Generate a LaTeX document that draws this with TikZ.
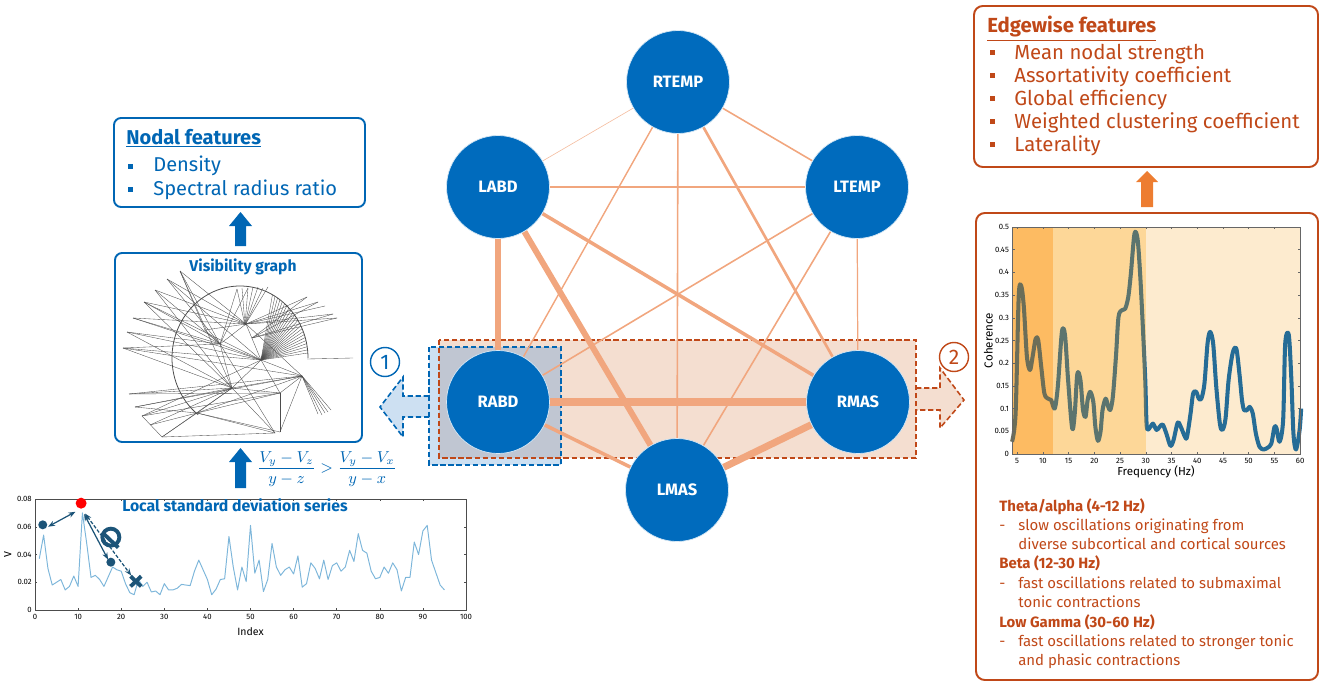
\documentclass[tikz,border=0pt]{standalone}
\usepackage{fontspec}
\setmainfont{Fira Sans}
\usetikzlibrary{arrows.meta,calc}
\pgfdeclarelayer{boxes}
\pgfdeclarelayer{edges}
\pgfsetlayers{boxes,edges,main}
\definecolor{nblue}{RGB}{0,107,189}
\definecolor{tblue}{RGB}{0,102,180}
\definecolor{eorange}{RGB}{241,166,126}
\definecolor{dred}{RGB}{192,72,24}
\definecolor{peach}{RGB}{244,222,208}
\definecolor{lblue}{RGB}{205,224,242}
\definecolor{gblue}{RGB}{192,198,210}
\definecolor{sblue}{RGB}{125,182,218}
\definecolor{dteal}{RGB}{28,84,120}
\definecolor{aorange}{RGB}{237,125,49}
\definecolor{bandA}{RGB}{253,187,98}
\definecolor{bandB}{RGB}{253,215,152}
\definecolor{bandC}{RGB}{253,235,207}
\definecolor{curA}{RGB}{108,110,88}
\definecolor{curB}{RGB}{92,116,110}
\definecolor{curC}{RGB}{38,108,150}
\begin{document}
\begin{tikzpicture}[x=0.02cm,y=-0.02cm,
  gnode/.style={circle,fill=nblue,draw=white!85!nblue,line width=0.4pt,minimum size=2.06cm,inner sep=0pt,text=white,font=\fontsize{9.4}{11}\selectfont\bfseries},
  gedge/.style={draw=eorange},
  bbox/.style={draw=tblue,line width=1.1pt,rounded corners=4pt},
  rbox/.style={draw=dred,line width=1.1pt,rounded corners=5pt},
  vg/.style={draw=black!70,line width=0.2pt},
  ttext/.style={anchor=base west,inner sep=0pt,text=tblue,font=\fontsize{11.4}{13}\selectfont},
  rtext/.style={anchor=base west,inner sep=0pt,text=dred,font=\fontsize{11.6}{13}\selectfont},
  stext/.style={anchor=base west,inner sep=0pt,text=dred,font=\fontsize{8.5}{10}\selectfont},
  ticklab/.style={font=\fontsize{4.4}{5}\selectfont,inner sep=1pt},
  dbox/.style={dashed,dash pattern=on 3pt off 1.6pt,line width=0.9pt},
  mdot/.style={circle,fill=dteal,minimum size=0.18cm,inner sep=0pt},
  darr/.style={draw=dteal,line width=0.7pt,{Stealth[length=4pt]}-{Stealth[length=4pt]},shorten <=0.5pt,shorten >=0.5pt},
]
\useasboundingbox (0,0) rectangle (1325,686);

% ---------------- background boxes of the network ----------------
\begin{pgfonlayer}{boxes}
\fill[peach] (439,340) rectangle (916,458);
\fill[lblue] (429,347) rectangle (561,465);
\fill[gblue] (439,347) rectangle (561,458);
\fill[lblue] (429,396) -- (403,396) -- (403,377) -- (380,407) -- (403,437) -- (403,417) -- (429,417) -- cycle;
\fill[peach] (916,388) -- (940,388) -- (940,368) -- (964,400) -- (940,428) -- (940,410) -- (916,410) -- cycle;
\draw[dred,dbox] (439,340) rectangle (916,458);
\draw[tblue,dbox] (429,347) rectangle (561,465);
\draw[tblue,dbox] (429,396) -- (403,396) -- (403,377) -- (380,407) -- (403,437) -- (403,417) -- (429,417);
\draw[dred,dbox] (916,388) -- (940,388) -- (940,368) -- (964,400) -- (940,428) -- (940,410) -- (916,410);
\end{pgfonlayer}

% ---------------- network nodes ----------------
\node[gnode] (RTEMP) at (678,82) {RTEMP};
\node[gnode] (LABD) at (498,187) {LABD};
\node[gnode] (LTEMP) at (857,187) {LTEMP};
\node[gnode] (RABD) at (498,402) {RABD};
\node[gnode] (RMAS) at (858,402) {RMAS};
\node[gnode] (LMAS) at (677,490) {LMAS};

\begin{pgfonlayer}{edges}
\draw[gedge,draw=eorange!75,line width=0.35pt] (RTEMP) -- (LABD);
\draw[gedge,line width=0.9pt] (RTEMP) -- (LTEMP);
\draw[gedge,line width=0.8pt] (RTEMP) -- (RABD);
\draw[gedge,line width=0.9pt] (RTEMP) -- (LMAS);
\draw[gedge,line width=1.5pt] (RTEMP) -- (RMAS);
\draw[gedge,line width=0.9pt] (LABD) -- (LTEMP);
\draw[gedge,line width=3.4pt] (LABD) -- (RABD);
\draw[gedge,line width=3.4pt] (LABD) -- (LMAS);
\draw[gedge,line width=2pt] (LABD) -- (RMAS);
\draw[gedge,line width=0.9pt] (LTEMP) -- (RABD);
\draw[gedge,line width=0.9pt] (LTEMP) -- (LMAS);
\draw[gedge,line width=0.7pt] (LTEMP) -- (RMAS);
\draw[gedge,line width=4.5pt] (RABD) -- (RMAS);
\draw[gedge,line width=2pt] (RABD) -- (LMAS);
\draw[gedge,line width=4pt] (RMAS) -- (LMAS);
\end{pgfonlayer}

\node[circle,draw=tblue,line width=0.8pt,minimum size=0.58cm,inner sep=0pt,text=tblue,font=\fontsize{12}{13}\selectfont] (c1) at (385,362) {1};
\node[circle,draw=dred,line width=0.8pt,minimum size=0.58cm,inner sep=0pt,text=dred,font=\fontsize{12}{13}\selectfont] (c2) at (954,357) {2};

% ---------------- left: nodal features ----------------
\draw[bbox] (114,118) rectangle (365,207);
\node[ttext,font=\fontsize{11.4}{13}\selectfont\bfseries] (nodt) at (126,144) {\underline{Nodal features}};
\fill[tblue] (128,164) rectangle (133,169);
\fill[tblue] (128,187) rectangle (133,192);
\node[ttext] (nod1) at (153,172) {Density};
\node[ttext] (nod2) at (153,195) {Spectral radius ratio};

\fill[tblue] (235,246) -- (235,226) -- (229,226) -- (240.5,212) -- (252,226) -- (246,226) -- (246,246) -- cycle;

% ---------------- visibility graph ----------------
\draw[bbox] (115,253) rectangle (362,442);
\node[anchor=base,inner sep=0pt,text=tblue,font=\fontsize{8.9}{10}\selectfont\bfseries] (vgt) at (243,271) {Visibility graph};
\begin{scope}[vg]
\draw[line width=0.45pt] (308,358) arc[start angle=0,end angle=-232,x radius=68,y radius=72];
\foreach \t in {-4,-6.5,...,-62} \draw (261,360) -- ($(240,358)+(\t:68 and 72)$);
\draw (307,359) -- (353,358);
\foreach \ax/\ay/\bx/\by in {
 180/271/220/344, 180/271/246/324, 180/271/232/388, 180/271/205/330,
 167/279/220/344, 167/279/246/324, 167/279/261/360,
 155/290/220/344, 155/290/232/388, 155/290/246/324,
 144/302/220/344, 144/302/261/360, 144/302/246/324, 144/302/232/388,
 133/318/220/344, 133/318/246/324, 133/318/261/360,
 127/332/220/344, 127/332/261/360, 127/332/232/388,
 123/348/220/344, 123/348/302/376, 123/348/232/388, 123/348/261/360,
 129/394/232/388, 129/394/280/393, 129/394/302/376,
 135/407/232/388, 135/407/302/376, 135/407/197/413,
 142/416/232/388, 142/416/280/393, 142/416/261/360,
 150/425/197/413, 150/425/232/388,
 162/437/197/413, 162/437/232/388, 162/437/142/416,
 275/433/197/413, 275/433/232/388, 275/433/162/437, 275/433/220/344,
 280/432/302/376, 280/432/197/413, 280/432/280/393,
 302/376/322/415, 302/376/325/413, 302/376/328/412, 302/376/318/414, 302/376/331/410,
 302/376/261/360, 302/376/232/388, 302/376/280/393, 302/376/246/324, 302/376/197/413,
 246/324/307/297, 246/324/318/302, 246/324/333/314, 246/324/337/318, 246/324/325/306,
 252/338/307/297, 252/338/318/302, 252/338/337/318, 252/338/333/314,
 245/325/237/289, 245/325/242/288, 245/325/248/288, 245/325/253/287, 245/325/258/287, 245/325/263/288, 245/325/268/287,
 220/344/237/289, 220/344/248/288, 220/344/205/330,
 232/388/280/393, 232/388/261/360, 232/388/220/344, 232/388/197/413,
 220/344/261/360, 220/344/246/324, 246/324/261/360,
 197/413/280/393, 280/393/261/360, 205/330/246/324}
 \draw (\ax,\ay) -- (\bx,\by);
\end{scope}

% ---------------- formula and arrow ----------------
\fill[tblue] (235,488) -- (235,462) -- (229,462) -- (240.5,448) -- (252,462) -- (246,462) -- (246,488) -- cycle;
\node[anchor=west,inner sep=0pt,text=tblue,font=\fontsize{9}{10}\selectfont] (formula) at (257,469) {$\displaystyle\frac{V_y - V_z}{y - z} > \frac{V_y - V_x}{y - x}$};

% ---------------- local standard deviation series ----------------
\begin{scope}[shift={(35,610)},xscale=4.31,yscale=-1387.5]
\draw[black!70,line width=0.4pt] (0,0) rectangle (100,0.08);
\foreach \i in {0,10,...,100} {
  \draw[black!70,line width=0.3pt] (\i,0) -- (\i,0.0015) (\i,0.08) -- (\i,0.0785);
  \node[ticklab,anchor=north] at (\i,-0.0015) {\i};
}
\foreach \v/\l in {0/0,0.02/0.02,0.04/0.04,0.06/0.06,0.08/0.08} {
  \draw[black!70,line width=0.3pt] (0,\v) -- (0.5,\v) (100,\v) -- (99.5,\v);
  \node[ticklab,anchor=east] at (-0.3,\v) {\l};
}
\draw[sblue,line width=0.55pt,line join=round] plot coordinates {
(1,0.037) (2,0.054) (3,0.030) (4,0.018) (5,0.020) (6,0.022) (7,0.0145) (8,0.017) (9,0.0245) (10,0.017)
(11,0.070) (12,0.048) (13,0.0235) (14,0.025) (15,0.022) (16,0.017) (17,0.024) (18,0.031) (19,0.029) (20,0.028)
(21,0.019) (22,0.0125) (23,0.011) (24,0.022) (25,0.017) (26,0.020) (27,0.013) (28,0.0137) (29,0.011) (30,0.019)
(31,0.0145) (32,0.0145) (33,0.0157) (34,0.0185) (35,0.018) (36,0.0176) (37,0.028) (38,0.036) (39,0.029) (40,0.022)
(41,0.011) (42,0.015) (43,0.022) (44,0.0225) (45,0.053) (46,0.031) (47,0.0145) (48,0.031) (49,0.0205) (50,0.061)
(51,0.0265) (52,0.036) (53,0.0133) (54,0.022) (55,0.048) (56,0.031) (57,0.025) (58,0.029) (59,0.031) (60,0.026)
(61,0.039) (62,0.0165) (63,0.019) (64,0.034) (65,0.030) (66,0.0225) (67,0.036) (68,0.022) (69,0.032) (70,0.034)
(71,0.028) (72,0.031) (73,0.043) (74,0.035) (75,0.055) (76,0.043) (77,0.041) (78,0.028) (79,0.0225) (80,0.0235)
(81,0.031) (82,0.0265) (83,0.034) (84,0.029) (85,0.0137) (86,0.0235) (87,0.0235) (88,0.049) (89,0.040) (90,0.057)
(91,0.061) (92,0.036) (93,0.027) (94,0.018) (95,0.0145)};
\node[mdot] (d1) at (1.8,0.0614) {};
\node[mdot] (d2) at (17.6,0.0345) {};
\node[circle,fill=red,minimum size=0.22cm,inner sep=0pt] (dr) at (10.7,0.077) {};
\node[minimum size=0.2cm,inner sep=0pt] (dx) at (23.4,0.0217) {};
\draw[dteal,line width=2.2pt] (dx.north west) -- (dx.south east) (dx.north east) -- (dx.south west);
\draw[darr] (d1) -- (dr);
\draw[darr] (dr) -- (d2);
\draw[darr,dashed,dash pattern=on 2pt off 1pt] (dr) -- (dx);
\node[circle,draw=dteal,line width=2.2pt,minimum size=0.34cm,inner sep=0pt] (no) at (17.6,0.0525) {};
\draw[dteal,line width=2.2pt] (no.north west) -- (no.south east);
\node[ticklab,anchor=north,font=\fontsize{6}{7}\selectfont] (xlab) at (50,-0.011) {Index};
\node[ticklab,rotate=90,font=\fontsize{6}{7}\selectfont] (ylab) at (-6.3,0.04) {V};
\end{scope}
\node[anchor=base,inner sep=0pt,text=tblue,font=\fontsize{9}{10}\selectfont\bfseries] (lsd) at (235,511) {Local standard deviation series};

% ---------------- right: edgewise features ----------------
\draw[rbox] (974,6) rectangle (1318,167);
\node[rtext,font=\fontsize{11.6}{13}\selectfont\bfseries] (edt) at (987,33) {\underline{Edgewise features}};
\foreach \yy/\tt in {60/Mean nodal strength,83/Assortativity coefficient,106/Global efficiency,129/Weighted clustering coefficient,152/Laterality} {
  \fill[dred] (990,\yy-10) rectangle (995,\yy-5);
  \node[rtext] at (1014,\yy) {\tt};
}
\fill[aorange] (1141,207) -- (1141,182) -- (1136,182) -- (1147,171) -- (1158,182) -- (1153,182) -- (1153,207) -- cycle;

% ---------------- coherence panel ----------------
\draw[rbox] (976,213) rectangle (1318,680);
\begin{scope}[shift={(991.42,454)},xscale=5.145,yscale=-454]
\fill[bandC] (30,0) rectangle (60,0.5);
\fill[bandA] (4,0) rectangle (12,0.5);
\fill[bandB] (12,0) rectangle (30,0.5);
\foreach \c/\lo/\hi in {curA/3/12,curB/12/30,curC/30/61} {
\begin{scope}
\clip (\lo,-0.05) rectangle (\hi,0.55);
\draw[\c,line width=2.3pt,line join=round] plot[smooth,tension=0.5] coordinates {
(4.0,0.027) (4.7,0.09) (5.3,0.346) (5.8,0.37) (6.3,0.324) (6.9,0.214) (7.5,0.185) (8.0,0.214) (8.6,0.254) (9.1,0.25)
(9.7,0.19) (10.3,0.133) (11.0,0.122) (11.6,0.119) (12.3,0.10) (12.9,0.148) (13.7,0.269) (14.3,0.262) (14.9,0.163) (15.7,0.056)
(16.2,0.09) (16.7,0.177) (17.3,0.163) (17.8,0.097) (18.3,0.082) (18.7,0.119) (19.2,0.137) (19.8,0.115) (20.2,0.06) (20.7,0.029)
(21.2,0.049) (21.6,0.097) (22.2,0.122) (22.7,0.104) (23.1,0.097) (23.6,0.126) (24.2,0.214) (24.7,0.302) (25.4,0.317) (26.0,0.32)
(26.6,0.346) (27.1,0.397) (27.8,0.485) (28.4,0.474) (28.9,0.397) (29.4,0.287) (29.9,0.163) (30.2,0.06) (30.9,0.06) (31.4,0.067)
(32.1,0.053) (32.7,0.06) (33.3,0.065) (34.0,0.045) (34.8,0.018) (35.4,0.031) (36.2,0.069) (36.8,0.06) (37.6,0.038) (38.0,0.037)
(38.7,0.089) (39.2,0.133) (39.8,0.137) (40.3,0.122) (40.8,0.122) (41.4,0.155) (42.0,0.243) (42.5,0.269) (43.1,0.243) (43.7,0.148)
(44.4,0.067) (44.9,0.053) (45.5,0.078) (46.1,0.163) (46.9,0.223) (47.6,0.232) (48.2,0.177) (48.7,0.119) (49.1,0.097) (49.7,0.097)
(50.2,0.104) (50.8,0.089) (51.4,0.045) (52.1,0.016) (52.9,0.010) (53.7,0.014) (54.4,0.023) (55.0,0.059) (55.4,0.057) (56.0,0.027)
(56.7,0.075) (57.1,0.243) (57.8,0.262) (58.3,0.163) (58.7,0.045) (59.2,0.010) (59.9,0.053) (60.2,0.10)};
\end{scope}
}
\draw[black!60,line width=0.3pt] (4,0) rectangle (60,0.5);
\foreach \i in {5,10,...,60} {
  \draw[black!60,line width=0.3pt] (\i,0) -- (\i,0.005) (\i,0.5) -- (\i,0.495);
  \node[ticklab,anchor=north] at (\i,-0.004) {\i};
}
\foreach \v in {0,0.05,0.1,0.15,0.2,0.25,0.3,0.35,0.4,0.45,0.5} {
  \draw[black!60,line width=0.3pt] (4,\v) -- (4.5,\v) (60,\v) -- (59.5,\v);
  \node[ticklab,anchor=east] at (3.8,\v) {\v};
}
\node[anchor=north,inner sep=0pt,font=\fontsize{6.6}{7}\selectfont] (flab) at (32,-0.026) {Frequency (Hz)};
\node[rotate=90,inner sep=0pt,font=\fontsize{6.6}{7}\selectfont] (clab) at (-0.6,0.25) {Coherence};
\end{scope}

\node[stext,font=\fontsize{8.5}{10}\selectfont\bfseries] (h1) at (999,511) {Theta/alpha (4-12 Hz)};
\node[stext] at (999,530) {-};
\node[stext] (t1a) at (1018,530) {slow oscillations originating from};
\node[stext] (t1b) at (1018,549) {diverse subcortical and cortical sources};
\node[stext,font=\fontsize{8.5}{10}\selectfont\bfseries] (h2) at (999,568) {Beta (12-30 Hz)};
\node[stext] at (999,588) {-};
\node[stext] (t2a) at (1018,588) {fast oscillations related to submaximal};
\node[stext] (t2b) at (1018,607) {tonic contractions};
\node[stext,font=\fontsize{8.5}{10}\selectfont\bfseries] (h3) at (999,627) {Low Gamma (30-60 Hz)};
\node[stext] at (999,646) {-};
\node[stext] (t3a) at (1018,646) {fast oscillations related to stronger tonic};
\node[stext] (t3b) at (1018,665) {and phasic contractions};
\end{tikzpicture}
\end{document}
